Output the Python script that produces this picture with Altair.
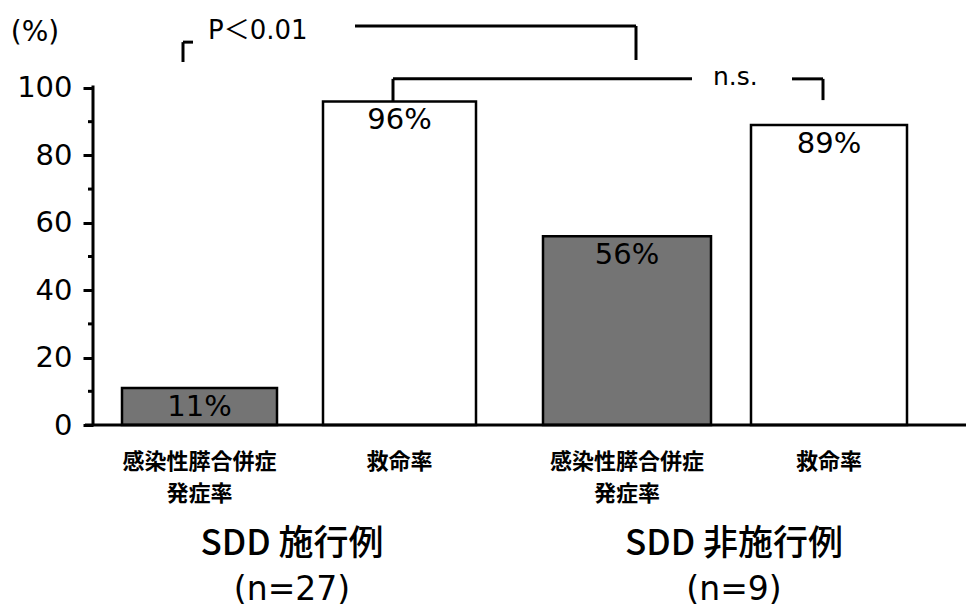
import altair as alt
import pandas as pd

# ---------------- data ----------------
categories = ["感染性膵合併症\n発症率", "救命率", "感染性膵合併症\n発症率", "救命率"]
groups = ["SDD 施行例", "SDD 施行例", "SDD 非施行例", "SDD 非施行例"]
values = [11, 96, 56, 89]
value_labels = ["11%", "96%", "56%", "89%"]
group_names = ["SDD 施行例", "SDD 非施行例"]
group_n = ["(n=27)", "(n=9)"]
y_ticks = [0, 20, 40, 60, 80, 100]
y_minor = [10, 30, 50, 70, 90]
sig_texts = ["P＜0.01", "n.s."]

# ---------------- layout (x in layout units: 1 unit = 200 px) ----------------
bar_left = [0.61, 1.615, 2.715, 3.755]
bar_right = [1.385, 2.38, 3.555, 4.535]
bar_center = [(l + r) / 2 for l, r in zip(bar_left, bar_right)]
fills = ["#747474", "#ffffff", "#747474", "#ffffff"]
group_center = [1.46, 3.67]
cat_line_px = [462, 494]

X_DOMAIN = [0.465, 4.83]
Y_DOMAIN = [-54.0, 126.1]

xs = alt.Scale(domain=X_DOMAIN, nice=False, zero=False)
ys = alt.Scale(domain=Y_DOMAIN, nice=False, zero=False)

bars_df = pd.DataFrame({
    "cat": categories, "group": groups, "value": values, "label": value_labels,
    "l": bar_left, "r": bar_right, "c": bar_center, "fill": fills, "base": 0,
})

bars = alt.Chart(bars_df).mark_bar(stroke="black", strokeWidth=2.5).encode(
    x=alt.X("l:Q", scale=xs, axis=None),
    x2="r:Q",
    y=alt.Y("value:Q", scale=ys,
            axis=alt.Axis(values=y_ticks, title=None, domain=False, grid=False,
                          tickSize=10, tickWidth=3, tickColor="black",
                          labelFont="DejaVu Sans", labelFontSize=29,
                          labelColor="black", labelPadding=11)),
    y2="base:Q",
    fill=alt.Fill("fill:N", scale=None),
)

pct = alt.Chart(bars_df).mark_text(
    font="DejaVu Sans", fontSize=29, baseline="top", dy=5, color="black"
).encode(x=alt.X("c:Q", scale=xs), y=alt.Y("value:Q", scale=ys), text="label:N")

# category labels: each line drawn as its own text row
cat_rows = []
for c, cat in zip(bar_center, categories):
    for i, line in enumerate(cat.split("\n")):
        cat_rows.append({"c": c, "t": line, "row": i})
cat_df = pd.DataFrame(cat_rows)
cat_layers = []
for i, py in enumerate(cat_line_px):
    cat_layers.append(
        alt.Chart(cat_df).transform_filter(alt.datum.row == i).mark_text(
            font="Noto Sans CJK JP", fontSize=22, fontWeight="bold",
            baseline="middle", color="black"
        ).encode(x=alt.X("c:Q", scale=xs), y=alt.value(py), text="t:N")
    )

grp_df = pd.DataFrame({"g": group_names, "n": group_n, "c": group_center})
grp_text = alt.Chart(grp_df).mark_text(
    font="Noto Sans CJK JP", fontSize=35, fontWeight=500, baseline="middle", color="black"
).encode(x=alt.X("c:Q", scale=xs), y=alt.value(544), text="g:N")
n_text = alt.Chart(grp_df).mark_text(
    font="DejaVu Sans", fontSize=33, baseline="middle", color="black"
).encode(x=alt.X("c:Q", scale=xs), y=alt.value(590), text="n:N")

# axis lines, minor ticks and significance brackets (layout units)
seg = pd.DataFrame([
    # y axis line and x baseline
    {"x": 0.465, "x2": 0.465, "y": 0, "y2": 100.7},
    {"x": 0.425, "x2": 4.83, "y": 0, "y2": 0},
    # P<0.01 bracket
    {"x": 0.915, "x2": 0.915, "y": 113.6, "y2": 107.7},
    {"x": 0.915, "x2": 0.965, "y": 113.6, "y2": 113.6},
    {"x": 1.775, "x2": 3.18, "y": 118.4, "y2": 118.4},
    {"x": 3.18, "x2": 3.18, "y": 118.4, "y2": 108.3},
    # n.s. bracket
    {"x": 1.965, "x2": 1.965, "y": 102.7, "y2": 96.0},
    {"x": 1.965, "x2": 3.46, "y": 102.7, "y2": 102.7},
    {"x": 3.96, "x2": 4.115, "y": 102.7, "y2": 102.7},
    {"x": 4.115, "x2": 4.115, "y": 102.7, "y2": 96.4},
])
rules = alt.Chart(seg).mark_rule(color="black", strokeWidth=3).encode(
    x=alt.X("x:Q", scale=xs), x2="x2:Q", y=alt.Y("y:Q", scale=ys), y2="y2:Q")

minor_df = pd.DataFrame({"v": y_minor, "a": 0.44, "b": 0.465})
minor = alt.Chart(minor_df).mark_rule(color="black", strokeWidth=3).encode(
    x=alt.X("a:Q", scale=xs), x2="b:Q", y=alt.Y("v:Q", scale=ys))

sig_df = pd.DataFrame({"t": sig_texts, "x": [1.04, 3.565], "y": [117.0, 103.2]})
sig_p = alt.Chart(sig_df.iloc[[0]]).mark_text(
    font="DejaVu Sans, Noto Sans CJK JP", fontSize=26, align="left",
    baseline="middle", color="black"
).encode(x=alt.X("x:Q", scale=xs), y=alt.Y("y:Q", scale=ys), text="t:N")
sig_ns = alt.Chart(sig_df.iloc[[1]]).mark_text(
    font="DejaVu Sans", fontSize=25, align="left", baseline="middle", color="black"
).encode(x=alt.X("x:Q", scale=xs), y=alt.Y("y:Q", scale=ys), text="t:N")

unit_df = pd.DataFrame({"t": ["(%)"], "x": [0.175], "y": [116.3]})
unit = alt.Chart(unit_df).mark_text(
    font="DejaVu Sans", fontSize=28, baseline="middle", color="black"
).encode(x=alt.X("x:Q", scale=xs), y=alt.Y("y:Q", scale=ys), text="t:N")

chart = alt.layer(bars, pct, *cat_layers, grp_text, n_text, rules, minor, sig_p, sig_ns, unit).properties(
    width=873, height=607,
    autosize=alt.AutoSizeParams(type="none"),
    padding={"left": 93, "top": 0, "right": 0, "bottom": 0},
    background="white",
).configure_view(stroke=None)

chart.save("out.html", embed_options={"renderer": "svg", "actions": False})
